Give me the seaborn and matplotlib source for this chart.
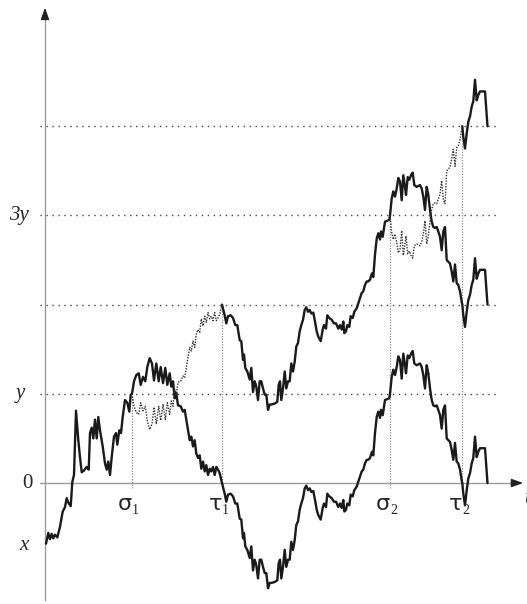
import numpy as np
import pandas as pd
import matplotlib
matplotlib.use("Agg")
import matplotlib.pyplot as plt
import seaborn as sns

# ==============================
# DATA (levels in units of y)
# ==============================

SIGMA1, TAU1, SIGMA2, TAU2 = 87, 177, 345, 417.3

t = [1, 3.3, 5, 6.7, 8.3, 10, 12.3, 15, 17.7, 20, 21.7, 23.3, 25.7, 27.3, 29, 31,
     33.3, 35, 36.7, 39, 41.7, 43.7, 45, 46.7, 48.3, 50, 51.7, 53.3, 55, 57.7, 60,
     61.7, 63.3, 65, 66.7, 69, 71, 72.3, 74.3, 76, 77.7, 80, 82.3, 84.3, 85.7,
     SIGMA1,
     89, 91.3, 93.7, 95.7, 98, 100.3, 102.3, 104.7, 107, 109, 111.3, 113.7, 115.7,
     118, 120.3, 122.3, 124.7, 126.3, 128, 129.7, 131.3, 133, 135.7, 138, 139.7,
     141.3, 143, 144.7, 146.3, 148, 149.7, 151.3, 153, 154.7, 156.3, 158, 159.7,
     161.3, 163, 164.7, 166.3, 168, 169.7, 171.3, 173, 174.7,
     TAU1,
     179.7, 181.3, 183, 185.7, 188, 190.3, 192.3, 194.7, 196.3, 198, 199, 200.3,
     202.3, 204.7, 206.3, 208, 209.7, 211.3, 213, 214.7, 216.3, 218, 219.7, 221.3,
     223, 224.7, 226.3, 229.7, 232.3, 233.7, 235, 236.3, 238, 239.7, 241.3, 243,
     244.7, 246.3, 248, 249.7, 251.3, 253, 254.7, 256.3, 258, 259.7, 261.3, 263,
     264.7, 266.3, 268.3, 270, 271.7, 273.3, 275.7, 277.7, 279, 281, 282.3, 284.3,
     286.7, 289, 291, 293.3, 295, 296.7, 298.3, 299.3, 301, 302.3, 304.3, 305.7,
     307.7, 309.3, 311.7, 314.3, 316.7, 318.3, 320, 321.7, 323.3, 325, 327, 328.3,
     330, 331.7, 333.3, 335, 336, 337.7, 339, 340, 342.3, 344.3,
     SIGMA2,
     346.7, 348.3, 350, 351.7, 353.3, 355, 356.7, 358.3, 360, 361, 362.7, 364.3,
     366, 367.7, 369.3, 371.7, 375, 376.7, 378.3, 380, 381.7, 383.3, 385, 386.7,
     388.3, 390, 391.7, 393.3, 395, 396.7, 398.3, 400, 401.7, 403.3, 405, 406.7,
     408.3, 410, 411.7, 413.3, 415, 416.7,
     TAU2,
     418.3, 420, 421.7, 423.3, 425, 426.7, 428.3, 430, 431.7, 433.3, 435, 436.7,
     440, 442.5]

b = [-0.68, -0.56, -0.63, -0.57, -0.62, -0.58, -0.61, -0.49, -0.32, -0.27, -0.17,
     -0.22, -0.26, 0.01, 0.09, 0.81, 0.48, 0.29, 0.12, 0.14, 0.18, 0.15, 0.56, 0.62,
     0.50, 0.71, 0.50, 0.74, 0.59, 0.41, 0.22, 0.15, 0.24, 0.09, 0.29, 0.52, 0.56,
     0.43, 0.59, 0.56, 0.74, 0.93, 0.90, 0.80, 0.99,
     1.00,
     1.14, 1.21, 1.23, 1.10, 1.19, 1.14, 1.30, 1.40, 1.34, 1.15, 1.34, 1.14, 1.30,
     1.12, 1.29, 1.10, 1.23, 1.08, 1.14, 0.95, 1.01, 0.87, 0.86, 0.80, 0.82, 0.71,
     0.59, 0.48, 0.52, 0.41, 0.48, 0.33, 0.28, 0.31, 0.16, 0.24, 0.13, 0.20, 0.09,
     0.16, 0.13, 0.18, 0.09, 0.18, 0.15, 0.11,
     0.00,
     -0.12, -0.21, -0.13, -0.12, -0.15, -0.23, -0.23, -0.40, -0.41, -0.62, -0.56,
     -0.71, -0.75, -0.84, -0.71, -0.98, -0.86, -0.92, -1.07, -0.86, -0.86, -0.94,
     -1.01, -1.01, -1.18, -1.12, -1.12, -1.11, -1.09, -0.90, -0.86, -1.07, -0.94,
     -0.75, -0.94, -0.86, -0.86, -0.66, -0.75, -0.64, -0.47, -0.43, -0.30, -0.23,
     -0.17, -0.06, -0.03, -0.08, -0.06, -0.10, -0.09, -0.19, -0.30, -0.36, -0.41,
     -0.28, -0.23, -0.27, -0.12, -0.15, -0.17, -0.21, -0.21, -0.27, -0.23, -0.28,
     -0.19, -0.32, -0.30, -0.23, -0.25, -0.13, -0.15, -0.08, -0.04, 0.05, 0.13,
     0.15, 0.22, 0.26, 0.26, 0.28, 0.35, 0.31, 0.56, 0.74, 0.80, 0.73, 0.82, 0.76,
     0.86, 0.93, 0.94, 0.95,
     1.00,
     1.19, 1.27, 1.21, 1.30, 1.42, 1.38, 1.17, 1.45, 1.32, 1.23, 1.43, 1.40, 1.45,
     1.48, 1.34, 1.32, 1.34, 1.30, 1.21, 1.06, 1.32, 1.23, 1.06, 0.93, 0.87, 0.86,
     0.87, 0.82, 0.76, 0.61, 0.82, 0.87, 0.50, 0.48, 0.46, 0.37, 0.26, 0.45, 0.24,
     0.22, 0.15, 0.03,
     0.00,
     -0.12, -0.25, -0.08, 0.05, 0.11, 0.22, 0.28, 0.52, 0.29, 0.35, 0.39, 0.39,
     0.39, 0.00]

levels = [1, 2, 3, 4]
label_levels = [3, 1, 0, -0.70]
label_texts = ["3y", "y", "0", "x"]
label_x = [-26, -25, -18, -21]
stop_times = [SIGMA1, TAU1, SIGMA2, TAU2]
stop_labels = ["1", "1", "2", "2"]
stop_names = ["σ", "τ", "σ", "τ"]
stop_tops = [1, 2, 3, 4]

# ==============================
# DERIVED PATHS
# ==============================

df = pd.DataFrame({"t": t, "b": b})
refl1 = df[(df.t >= SIGMA1) & (df.t <= TAU1)].assign(v=lambda d: 2 - d.b)
shift2 = df[df.t >= TAU1].assign(v=lambda d: d.b + 2)
refl2 = df[(df.t >= SIGMA2) & (df.t <= TAU2)].assign(v=lambda d: 4 - d.b)
shift4 = df[df.t >= TAU2].assign(v=lambda d: d.b + 4)

# ==============================
# FIGURE
# ==============================

sns.set_style("white")
fig = plt.figure(figsize=(5.27, 6.04), dpi=100)
ax = fig.add_axes([0, 0, 1, 1])
ax.set_xlim(-45, 482)
ax.set_ylim(-121 / 89.2, 483 / 89.2)
ax.axis("off")

# axes with arrows
ax.plot([0, 0], [-1.31, 5.25], color="#9a9a9a", lw=1.0)
ax.plot([-5, 472], [0, 0], color="#9a9a9a", lw=1.0)
ax.annotate("", xy=(0, 5.36), xytext=(0, 5.2),
            arrowprops=dict(arrowstyle="-|>,head_length=0.7,head_width=0.25",
                            color="#222222", lw=1, mutation_scale=10))
ax.annotate("", xy=(481, 0), xytext=(470, 0),
            arrowprops=dict(arrowstyle="-|>,head_length=0.7,head_width=0.25",
                            color="#222222", lw=1, mutation_scale=10))

# level lines
for lv in levels:
    ax.plot([-5, 452], [lv, lv], color="#444444", lw=1.0,
            linestyle=(0, (1, 3.3)))

# stopping time verticals
for st, top in zip(stop_times, stop_tops):
    ax.plot([st, st], [-0.06, top], color="#8a8a8a", lw=0.9,
            linestyle=(0, (1, 1.2)))

# paths
sns.lineplot(data=df, x="t", y="b", ax=ax, sort=False, estimator=None,
             color="#1a1a1a", lw=1.7)
sns.lineplot(data=shift2, x="t", y="v", ax=ax, sort=False, estimator=None,
             color="#1a1a1a", lw=1.7)
sns.lineplot(data=shift4, x="t", y="v", ax=ax, sort=False, estimator=None,
             color="#1a1a1a", lw=1.7)
for d in (refl1, refl2):
    sns.lineplot(data=d, x="t", y="v", ax=ax, sort=False, estimator=None,
                 color="#333333", lw=1.0, linestyle=(0, (1, 1.0)))

# labels
serif = ["Liberation Serif", "DejaVu Serif"]
for lx, lv, txt in zip(label_x, label_levels, label_texts):
    ax.text(lx, lv, txt, ha="center", va="center", fontsize=15,
            family=serif, style="normal" if txt == "0" else "italic")
ax.text(479, -0.17, "t", ha="left", va="center", fontsize=15,
        family=serif, style="italic")

for st, nm, sub in zip(stop_times, stop_names, stop_labels):
    ax.text(st, -0.23, nm, ha="right", va="center", fontsize=16,
            family=["DejaVu Sans"])
    ax.text(st, -0.31, sub, ha="left", va="center", fontsize=10,
            family=serif)

fig.savefig("out.png", dpi=100)
plt.close(fig)
